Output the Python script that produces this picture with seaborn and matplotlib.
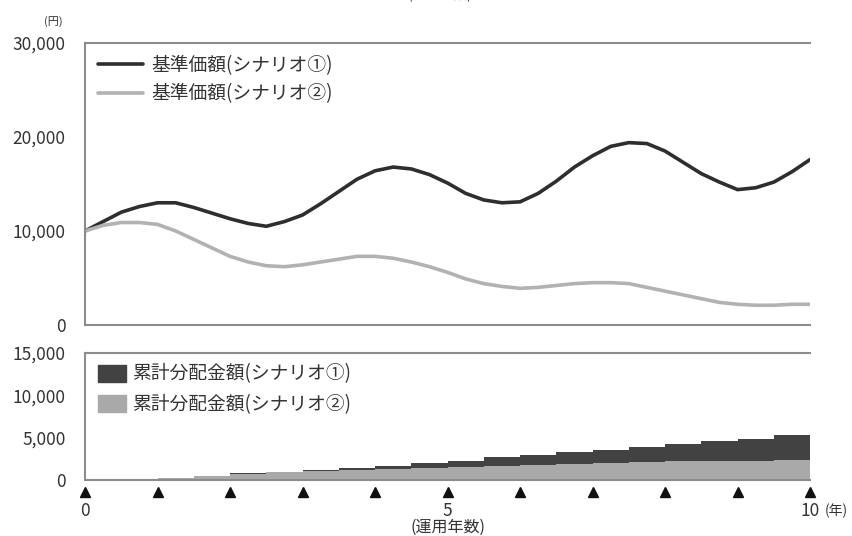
import numpy as np
import pandas as pd
import matplotlib
matplotlib.use("Agg")
import matplotlib.pyplot as plt
import matplotlib.transforms as mtransforms
from matplotlib.patches import Patch
from matplotlib.lines import Line2D
import seaborn as sns

sns.set_style("white")
plt.rcParams['font.family'] = ['Noto Sans CJK JP', 'DejaVu Sans']

# 基準価額 (quarterly readings, 0-10 years)
years = [0, 0.25, 0.5, 0.75, 1.0, 1.25, 1.5, 1.75, 2.0, 2.25, 2.5, 2.75, 3.0, 3.25,
         3.5, 3.75, 4.0, 4.25, 4.5, 4.75, 5.0, 5.25, 5.5, 5.75, 6.0, 6.25, 6.5, 6.75,
         7.0, 7.25, 7.5, 7.75, 8.0, 8.25, 8.5, 8.75, 9.0, 9.25, 9.5, 9.75, 10.0]
nav_s1 = [10000, 11000, 12000, 12600, 13000, 13000, 12500, 11900, 11300, 10800, 10500,
          11000, 11700, 12900, 14200, 15500, 16400, 16800, 16600, 16000, 15100, 14000,
          13300, 13000, 13100, 14000, 15300, 16800, 18000, 19000, 19400, 19300, 18500,
          17300, 16100, 15200, 14400, 14600, 15200, 16300, 17600]
nav_s2 = [10000, 10600, 10900, 10900, 10700, 10000, 9100, 8200, 7300, 6700, 6300,
          6200, 6400, 6700, 7000, 7300, 7300, 7100, 6700, 6200, 5600, 4900,
          4400, 4100, 3900, 4000, 4200, 4400, 4500, 4500, 4400, 4000, 3600,
          3200, 2800, 2400, 2200, 2100, 2100, 2200, 2200]

# 累計分配金額 (half-year steps)
dist_years = [0, 0.5, 1.0, 1.5, 2.0, 2.5, 3.0, 3.5, 4.0, 4.5, 5.0,
              5.5, 6.0, 6.5, 7.0, 7.5, 8.0, 8.5, 9.0, 9.5, 10.0]
cum_s1 = [0, 80, 210, 470, 790, 980, 1180, 1380, 1680, 2040, 2270,
          2670, 2980, 3250, 3530, 3840, 4200, 4550, 4900, 5260, 5490]
cum_s2 = [0, 80, 200, 450, 740, 900, 1050, 1170, 1280, 1400, 1500,
          1640, 1780, 1900, 2020, 2120, 2200, 2260, 2300, 2330, 2350]

labels_nav = ['基準価額(シナリオ①)', '基準価額(シナリオ②)']
labels_dist = ['累計分配金額(シナリオ①)', '累計分配金額(シナリオ②)']
tick_years = list(range(11))

DARK = '#2e2e2e'
LIGHT = '#b2b2b2'
AREA_DARK = '#424242'
AREA_LIGHT = '#a9a9a9'
SPINE = '#8c8c8c'
TEXT = '#333333'

df_nav = pd.DataFrame({'year': years, 's1': nav_s1, 's2': nav_s2})

fig = plt.figure(figsize=(8.52, 5.36), dpi=100)
ax_top = fig.add_axes([0.0998, 0.3937, 0.851, 0.5261])
ax_bot = fig.add_axes([0.0998, 0.1045, 0.851, 0.2369])

# top: NAV lines
sns.lineplot(data=df_nav, x='year', y='s1', ax=ax_top, color=DARK, linewidth=2.6)
sns.lineplot(data=df_nav, x='year', y='s2', ax=ax_top, color=LIGHT, linewidth=2.6)
ax_top.set_xlim(0, 10)
ax_top.set_ylim(0, 30000)
ax_top.set_yticks([0, 10000, 20000, 30000])
ax_top.set_yticklabels([f'{v:,}' for v in [0, 10000, 20000, 30000]])
ax_top.set_xticks([])
ax_top.set_xlabel('')
ax_top.set_ylabel('')
ax_top.legend(handles=[Line2D([], [], color=DARK, lw=2.6),
                       Line2D([], [], color=LIGHT, lw=2.6)],
              labels=labels_nav, loc='upper left', bbox_to_anchor=(0.0, 1.005),
              frameon=False, fontsize=13.5, handlelength=2.4, handletextpad=0.45,
              labelspacing=0.42, borderaxespad=0.3, labelcolor=TEXT)
fig.text(53 / 852, 1 - 22 / 536, '(円)', fontsize=8, color=TEXT, ha='center', va='center')

# bottom: cumulative distributions
ax_bot.fill_between(dist_years, cum_s1, step='post', color=AREA_DARK, linewidth=0)
ax_bot.fill_between(dist_years, cum_s2, step='post', color=AREA_LIGHT, linewidth=0)
ax_bot.set_xlim(0, 10)
ax_bot.set_ylim(0, 15000)
ax_bot.set_yticks([0, 5000, 10000, 15000])
ax_bot.set_yticklabels([f'{v:,}' for v in [0, 5000, 10000, 15000]])
ax_bot.set_xticks([0, 5, 10])
ax_bot.set_xticklabels(['0', '5', '10'])
ax_bot.legend(handles=[Patch(color=AREA_DARK), Patch(color=AREA_LIGHT)],
              labels=labels_dist, loc='upper left', bbox_to_anchor=(0.0, 1.02),
              frameon=False, fontsize=13.5, handlelength=1.5, handleheight=1.0,
              handletextpad=0.3, labelspacing=0.5, borderaxespad=0.3, labelcolor=TEXT)

# triangle markers under the axis, one per year
trans = mtransforms.blended_transform_factory(ax_bot.transData, ax_bot.transAxes)
ax_bot.plot(tick_years, [-0.095] * len(tick_years), linestyle='none', marker='^',
            markersize=6.5, color='#111111', transform=trans, clip_on=False)
ax_bot.text(10.2, -0.245, '(年)', transform=trans, fontsize=10, color=TEXT,
            ha='left', va='center')
ax_bot.text(5, -0.375, '(運用年数)', transform=trans, fontsize=11.5, color=TEXT,
            ha='center', va='center')

for ax in (ax_top, ax_bot):
    for side in ('left', 'bottom', 'top'):
        ax.spines[side].set_color(SPINE)
        ax.spines[side].set_linewidth(1.5)
    ax.spines['right'].set_visible(False)
    ax.tick_params(axis='both', length=0, labelsize=12.5, labelcolor=TEXT)
    ax.tick_params(axis='y', pad=14)
ax_bot.tick_params(axis='x', pad=16)

# clipped caption at the very top edge
fig.text(0.517, 0.997, '(運用年数)', fontsize=10, color=TEXT, ha='center', va='bottom')

fig.savefig('out.png', dpi=100)
